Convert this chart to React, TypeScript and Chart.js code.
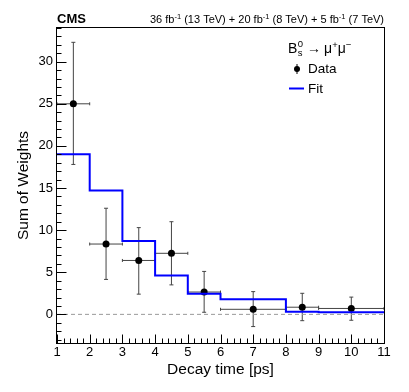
import React, { useEffect, useRef } from "react";
import { Chart, registerables } from "chart.js";

Chart.register(...registerables);

// ---- data ----
const binLow = [1, 2, 3, 4, 5, 6, 8, 9];
const binHigh = [2, 3, 4, 5, 6, 8, 9, 11];
const dataX = [1.5, 2.5, 3.5, 4.5, 5.5, 7, 8.5, 10];
const dataY = [25.0, 8.35, 6.4, 7.25, 2.65, 0.6, 0.85, 0.7];
const errHigh = [32.3, 12.6, 10.3, 11.0, 5.1, 2.7, 2.5, 2.05];
const errLow = [17.8, 4.15, 2.4, 3.5, 0.25, -1.45, -0.75, -0.7];
const fitEdges = [1, 2, 3, 4, 5, 6, 8, 9, 11];
const fitValues = [19.0, 14.7, 8.7, 4.6, 2.45, 1.78, 0.3, 0.24];
const xTickValues = [1, 2, 3, 4, 5, 6, 7, 8, 9, 10, 11];
const yTickValues = [0, 5, 10, 15, 20, 25, 30];
const xRange = [1, 11];
const yRange = [-3.4, 34];
const xTitle = "Decay time [ps]";
const yTitle = "Sum of Weights";

const FONT = "'Liberation Sans', Arial, Helvetica, sans-serif";
const BLUE = "#0000ff";

const decorPlugin = {
  id: "decor",
  beforeDatasetsDraw(chart: any) {
    const { ctx, scales } = chart;
    const x = scales.x;
    const y = scales.y;
    ctx.save();
    ctx.strokeStyle = "#444";
    ctx.lineWidth = 1;
    for (let i = 0; i < dataX.length; i++) {
      const px = x.getPixelForValue(dataX[i]);
      const py = y.getPixelForValue(dataY[i]);
      const x0 = x.getPixelForValue(binLow[i]);
      const x1 = x.getPixelForValue(binHigh[i]);
      const yt = y.getPixelForValue(errHigh[i]);
      const yb = y.getPixelForValue(errLow[i]);
      ctx.beginPath();
      ctx.moveTo(x0, py);
      ctx.lineTo(x1, py);
      ctx.moveTo(px, yt);
      ctx.lineTo(px, yb);
      ctx.moveTo(x0, py - 1.5);
      ctx.lineTo(x0, py + 1.5);
      ctx.moveTo(x1, py - 1.5);
      ctx.lineTo(x1, py + 1.5);
      ctx.moveTo(px - 2, yt);
      ctx.lineTo(px + 2, yt);
      ctx.moveTo(px - 2, yb);
      ctx.lineTo(px + 2, yb);
      ctx.stroke();
    }
    ctx.restore();
  },
  afterDraw(chart: any) {
    const { ctx, chartArea, scales } = chart;
    const x = scales.x;
    const y = scales.y;
    const { left, right, top, bottom } = chartArea;
    ctx.save();
    // frame
    ctx.strokeStyle = "#000";
    ctx.lineWidth = 1;
    const L = Math.round(left) - 0.5;
    const R = Math.round(right) + 0.5;
    const T = Math.round(top) - 0.5;
    const B = Math.round(bottom) + 0.5;
    ctx.strokeRect(L, T, R - L, B - T);
    // ticks inside frame
    ctx.beginPath();
    for (let i = 0; i <= 50; i++) {
      const v = xRange[0] + i * 0.2;
      const px = Math.round(x.getPixelForValue(v)) + 0.5;
      const len = i % 5 === 0 ? 9 : 5;
      ctx.moveTo(px, B);
      ctx.lineTo(px, B - len);
    }
    for (let v = Math.ceil(yRange[0]); v <= Math.floor(yRange[1]); v++) {
      const py = Math.round(y.getPixelForValue(v)) + 0.5;
      const len = v % 5 === 0 ? 10 : 5;
      ctx.moveTo(L, py);
      ctx.lineTo(L + len, py);
    }
    ctx.stroke();

    // header texts
    ctx.fillStyle = "#000";
    ctx.textBaseline = "alphabetic";
    ctx.textAlign = "left";
    ctx.font = `bold 13px ${FONT}`;
    ctx.fillText("CMS", left, 23);

    const segs: [string, boolean][] = [
      ["36 fb", false], ["-1", true], [" (13 TeV) + 20 fb", false], ["-1", true],
      [" (8 TeV) + 5 fb", false], ["-1", true], [" (7 TeV)", false],
    ];
    const normalFont = `11px ${FONT}`;
    const supFont = `7.5px ${FONT}`;
    let total = 0;
    for (const [t, sup] of segs) {
      ctx.font = sup ? supFont : normalFont;
      total += ctx.measureText(t).width;
    }
    let cx = right - total;
    for (const [t, sup] of segs) {
      ctx.font = sup ? supFont : normalFont;
      ctx.fillText(t, cx, sup ? 19 : 23);
      cx += ctx.measureText(t).width;
    }

    // legend header: B_s^0 -> mu+ mu-
    let lx = 288;
    const lb = 53;
    ctx.font = `14px ${FONT}`;
    ctx.fillText("B", lx, lb);
    lx += ctx.measureText("B").width;
    ctx.font = `9.5px ${FONT}`;
    ctx.fillText("0", lx + 0.5, lb - 6);
    ctx.fillText("s", lx + 0.5, lb + 2.5);
    lx += ctx.measureText("0").width + 4.5;
    ctx.font = `14px ${FONT}`;
    ctx.fillText("\u2192", lx, lb);
    lx += ctx.measureText("\u2192").width + 3;
    ctx.fillText("\u03bc", lx, lb);
    lx += ctx.measureText("\u03bc").width;
    ctx.font = `9.5px ${FONT}`;
    ctx.fillText("+", lx, lb - 5);
    lx += ctx.measureText("+").width;
    ctx.font = `14px ${FONT}`;
    ctx.fillText("\u03bc", lx, lb);
    lx += ctx.measureText("\u03bc").width;
    ctx.font = `9.5px ${FONT}`;
    ctx.fillText("\u2212", lx, lb - 5);

    // legend entries
    ctx.strokeStyle = "#000";
    ctx.lineWidth = 1;
    ctx.beginPath();
    ctx.moveTo(297, 64);
    ctx.lineTo(297, 74);
    ctx.stroke();
    ctx.beginPath();
    ctx.arc(297, 69, 3, 0, Math.PI * 2);
    ctx.fill();
    ctx.font = `13.5px ${FONT}`;
    ctx.fillText("Data", 308, 73);

    ctx.strokeStyle = BLUE;
    ctx.lineWidth = 2;
    ctx.beginPath();
    ctx.moveTo(289, 88.5);
    ctx.lineTo(304, 88.5);
    ctx.stroke();
    ctx.fillText("Fit", 308, 93);
    ctx.restore();
  },
};

export default function App() {
  const canvasRef = useRef<HTMLCanvasElement | null>(null);

  useEffect(() => {
    const canvas = canvasRef.current;
    if (!canvas) return;
    const fitData = fitEdges.map((e, i) => ({ x: e, y: fitValues[Math.min(i, fitValues.length - 1)] }));
    const points = dataX.map((v, i) => ({ x: v, y: dataY[i] }));
    const chart = new Chart(canvas, {
      type: "scatter",
      data: {
        datasets: [
          {
            type: "line",
            label: "zero",
            data: [{ x: xRange[0], y: 0 }, { x: xRange[1], y: 0 }],
            borderColor: "#999",
            borderWidth: 1,
            borderDash: [4, 3],
            pointRadius: 0,
            fill: false,
          } as any,
          {
            type: "line",
            label: "Fit",
            data: fitData,
            borderColor: BLUE,
            borderWidth: 2,
            stepped: "before",
            pointRadius: 0,
            fill: false,
          } as any,
          {
            type: "scatter",
            label: "Data",
            data: points,
            backgroundColor: "#000",
            borderColor: "#000",
            pointRadius: 3.5,
            pointBorderWidth: 0,
          } as any,
        ],
      },
      options: {
        responsive: false,
        animation: false,
        devicePixelRatio: 1,
        layout: { padding: { left: 0, right: 25, top: 28, bottom: 0 } },
        plugins: {
          legend: { display: false },
          tooltip: { enabled: false },
        },
        events: [],
        scales: {
          x: {
            type: "linear",
            min: xRange[0],
            max: xRange[1],
            grid: { display: false, drawTicks: false },
            border: { display: false },
            afterBuildTicks: (s: any) => {
              s.ticks = xTickValues.map((v) => ({ value: v }));
            },
            afterFit: (s: any) => {
              s.height = 49;
            },
            ticks: {
              color: "#000",
              font: { family: FONT, size: 13 },
              padding: 2,
              maxRotation: 0,
              autoSkip: false,
            },
            title: {
              display: true,
              text: xTitle,
              color: "#000",
              font: { family: FONT, size: 15.5 },
              padding: { top: 0, bottom: 13 },
            },
          },
          y: {
            type: "linear",
            min: yRange[0],
            max: yRange[1],
            grid: { display: false, drawTicks: false },
            border: { display: false },
            afterBuildTicks: (s: any) => {
              s.ticks = yTickValues.map((v) => ({ value: v }));
            },
            afterFit: (s: any) => {
              s.width = 57;
            },
            ticks: {
              color: "#000",
              font: { family: FONT, size: 13 },
              padding: 4,
              autoSkip: false,
            },
            title: {
              display: true,
              text: yTitle,
              color: "#000",
              font: { family: FONT, size: 15.5 },
              padding: { top: 14, bottom: 0 },
            },
          },
        },
      },
      plugins: [decorPlugin],
    });
    return () => chart.destroy();
  }, []);

  return (
    <div style={{ position: "fixed", left: 0, top: 0, width: 409, height: 392, background: "#fff" }}>
      <canvas ref={canvasRef} width={409} height={392} style={{ display: "block", width: 409, height: 392 }} />
    </div>
  );
}
